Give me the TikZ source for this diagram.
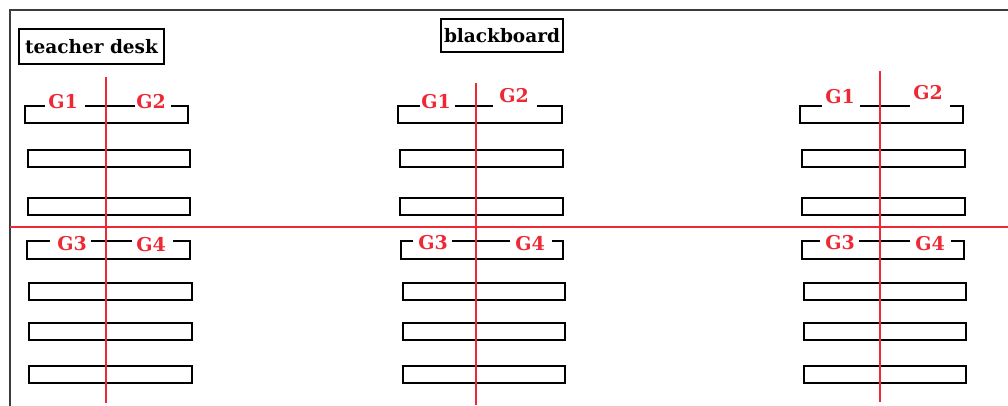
\documentclass[tikz,border=0pt]{standalone}
\usepackage{fontspec}
\setmainfont{DejaVu Serif}
\definecolor{grpred}{RGB}{238,40,52}
\definecolor{framegray}{RGB}{60,60,60}
\begin{document}
\begin{tikzpicture}[x=1pt,y=-1pt,
    desk/.style={draw=black,line width=1.6pt},
    divider/.style={draw=grpred,line width=1.3pt},
    grp/.style={text=grpred,font=\fontsize{19}{20}\selectfont\bfseries,inner sep=0pt},
    sign/.style={draw=black,line width=1.4pt,font=\fontsize{18.5}{20}\selectfont\bfseries,inner sep=0pt}]
\useasboundingbox (0,0) rectangle (1008,406);
% room walls
\draw[framegray,line width=2pt] (10,406) -- (10,10) -- (1008,10);
% front of the room
\node[sign,minimum width=145pt,minimum height=35pt] (teacher) at (91.5,46.5) {teacher desk};
\node[sign,minimum width=122pt,minimum height=33pt] (board) at (502,35.5) {blackboard};
% plain desks
\foreach \l/\r/\t in {28/190/150,28/190/198,29/192/283,29/192/323,29/192/366,
                       400/563/150,400/563/198,403/565/283,403/565/323,403/565/366,
                       802/965/150,802/965/198,804/966/283,804/966/323,804/966/366}
  \draw[desk] (\l,\t) rectangle (\r,\t+17);
% first desks, split by the group names
\draw[desk] (45,106) -- (25,106) -- (25,123) -- (188,123) -- (188,106) -- (171,106);
\draw[desk] (85,106) -- (135,106);
\draw[desk] (420,106) -- (398,106) -- (398,123) -- (562,123) -- (562,106) -- (537,106);
\draw[desk] (455,106) -- (493,106);
\draw[desk] (822,106) -- (800,106) -- (800,123) -- (963,123) -- (963,106) -- (950,106);
\draw[desk] (860,106) -- (910,106);
\draw[desk] (50,241) -- (27,241) -- (27,259) -- (190,259) -- (190,241) -- (173,241);
\draw[desk] (91,241) -- (132,241);
\draw[desk] (413,241) -- (401,241) -- (401,259) -- (563,259) -- (563,241) -- (552,241);
\draw[desk] (452,241) -- (510,241);
\draw[desk] (820,241) -- (802,241) -- (802,259) -- (964,259) -- (964,241) -- (951,241);
\draw[desk] (859,241) -- (910,241);
% group names
\node[grp] (ga1) at (63,102) {G1};
\node[grp] (ga2) at (151,102) {G2};
\node[grp] (gb1) at (436,102) {G1};
\node[grp] (gb2) at (514,96) {G2};
\node[grp] (gc1) at (840,97) {G1};
\node[grp] (gc2) at (928,93) {G2};
\node[grp] (ga3) at (72,244) {G3};
\node[grp] (ga4) at (151,245) {G4};
\node[grp] (gb3) at (433,242.5) {G3};
\node[grp] (gb4) at (530,244) {G4};
\node[grp] (gc3) at (840,242.5) {G3};
\node[grp] (gc4) at (930,244) {G4};
% group borders
\draw[divider] (10,227) -- (1008,227);
\draw[divider] (106,77) -- (106,403);
\draw[divider] (476,83) -- (476,405);
\draw[divider] (880,71) -- (880,402);
\end{tikzpicture}
\end{document}
